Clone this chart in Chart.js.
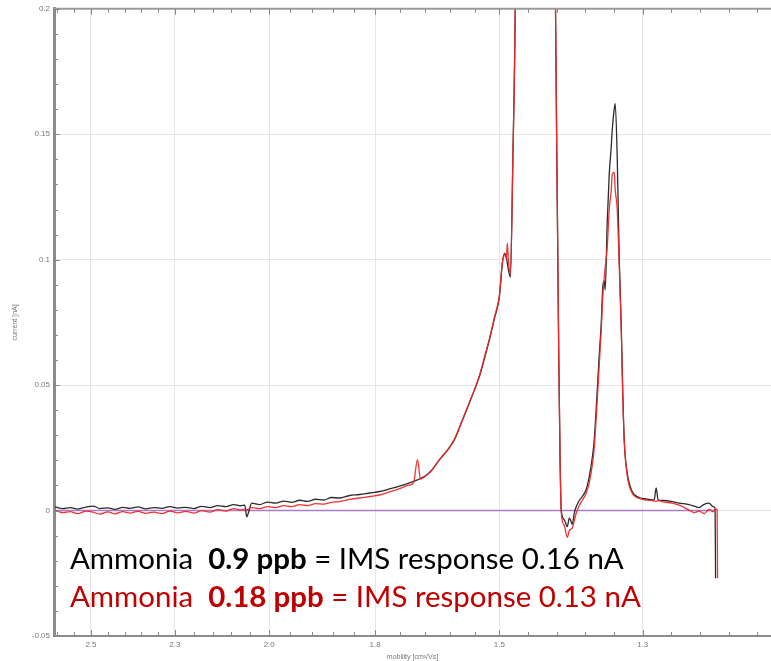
<!DOCTYPE html>
<html>
<head>
<meta charset="utf-8">
<script src="https://cdn.jsdelivr.net/npm/chart.js@4.4.1/dist/chart.umd.min.js"></script>
<style>
html,body{margin:0;padding:0;background:#fff;}
#wrap{width:771px;height:661px;position:relative;overflow:hidden;}
</style>
</head>
<body>
<div id="wrap"><canvas id="c" width="771" height="661"></canvas></div>
<script>
// drift-axis position (arbitrary linear units of the original plot's x axis)
const driftPos = [
  0, 0.8, 1.5, 2.3, 3.1, 3.8, 4.5, 5.3, 6.0, 6.8, 7.5, 8.3, 9.1, 9.9, 10.7, 11.5, 12.3, 13.1, 13.9, 14.7,
  15.5, 16.3, 17.1, 17.9, 18.6, 19.0, 19.2, 19.4, 19.7, 20.5, 21.3, 22.1, 22.9, 23.7, 24.5, 25.3, 26.1, 26.9, 27.7, 28.5,
  29.5, 30.5, 31.5, 32.5, 33.5, 34.5, 35.5, 35.9, 36.3, 36.6, 37.0, 37.7, 38.5, 39.3, 40.0, 40.7, 41.5, 42.0, 42.5, 43.0,
  43.5, 44.0, 44.5, 44.8, 45.0, 45.2, 45.3, 45.4, 45.6, 45.85, 46.1, 46.5, 48.1, 49.8, 50.1, 50.33, 50.45, 50.58, 50.7, 51.0,
  51.3, 51.5, 51.6, 51.8, 52.0, 52.2, 52.5, 52.8, 53.2, 53.5, 53.8, 54.0, 54.3, 54.5, 54.7, 54.85, 55.0, 55.1, 55.3, 55.5,
  55.7, 55.8, 56.0, 56.1, 56.3, 56.5, 56.7, 56.85, 57.0, 57.3, 57.8, 58.5, 59.3, 60.0, 60.2, 60.4, 61.0, 61.8, 62.5, 63.5,
  64.0, 64.5, 65.0, 65.5, 65.9, 66.1, 66.15, 66.3, 66.35
];
// Ammonia 0.9 ppb (black trace), current in nA
const current09 = [
  0.0015, 0.0008, 0.0012, 0.0006, 0.0014, 0.0018, 0.0008, 0.0011, 0.0005, 0.0013, 0.0009, 0.0015, 0.0007, 0.0012, 0.0009, 0.0016, 0.0010, 0.0013, 0.0008, 0.0017,
  0.0012, 0.0020, 0.0016, 0.0024, 0.0019, 0.0022, -0.0025, -0.0005, 0.0030, 0.0024, 0.0034, 0.0030, 0.0038, 0.0033, 0.0041, 0.0037, 0.0045, 0.0042, 0.0052, 0.0050,
  0.0060, 0.0064, 0.0070, 0.0076, 0.0086, 0.0097, 0.0110, 0.0116, 0.0122, 0.0128, 0.0136, 0.0160, 0.0203, 0.0240, 0.0282, 0.0350, 0.0430, 0.0480, 0.0534, 0.0605,
  0.0680, 0.0765, 0.0852, 0.0985, 0.1025, 0.1010, 0.0985, 0.0960, 0.0930, 0.1400, 0.2050, 0.45, 1.2, 0.45, 0.21, 0.11, 0.06, 0.02, 0.0000, -0.0036,
  -0.0064, -0.0030, -0.0036, -0.0055, -0.0010, 0.0016, 0.0040, 0.0056, 0.0085, 0.0135, 0.0210, 0.0282, 0.0480, 0.0620, 0.0747, 0.0890, 0.0915, 0.0880, 0.1150, 0.1340,
  0.1450, 0.1515, 0.1600, 0.1622, 0.1410, 0.1010, 0.0747, 0.0480, 0.0282, 0.0151, 0.0076, 0.0052, 0.0046, 0.0042, 0.0090, 0.0042, 0.0040, 0.0036, 0.0030, 0.0024,
  0.0018, 0.0012, 0.0025, 0.0030, 0.0016, 0.0010, -0.0270, null, null
];
// Ammonia 0.18 ppb (red trace), current in nA
const current018 = [
  0.0002, -0.0008, -0.0004, -0.0012, -0.0002, -0.0006, -0.0014, -0.0005, -0.0013, -0.0004, -0.0010, -0.0003, -0.0011, -0.0006, -0.0012, -0.0002, -0.0009, -0.0003, -0.0010, 0.0000,
  -0.0006, 0.0004, -0.0002, 0.0008, 0.0002, 0.0005, 0.0003, 0.0006, 0.0012, 0.0008, 0.0016, 0.0012, 0.0020, 0.0016, 0.0024, 0.0020, 0.0028, 0.0026, 0.0033, 0.0036,
  0.0045, 0.0050, 0.0056, 0.0062, 0.0074, 0.0087, 0.0102, 0.0110, 0.0203, 0.0125, 0.0134, 0.0158, 0.0203, 0.0242, 0.0285, 0.0352, 0.0432, 0.0482, 0.0538, 0.0610,
  0.0685, 0.0770, 0.0858, 0.0990, 0.1020, 0.1005, 0.1066, 0.1000, 0.0940, 0.1400, 0.2050, 0.45, 1.2, 0.45, 0.21, 0.11, 0.06, 0.02, -0.0010, -0.0060,
  -0.0107, -0.0080, -0.0075, -0.0070, -0.0040, -0.0010, 0.0020, 0.0040, 0.0070, 0.0110, 0.0180, 0.0250, 0.0440, 0.0580, 0.0720, 0.0850, 0.0930, 0.0970, 0.1050, 0.1200,
  0.1276, 0.1340, 0.1348, 0.1280, 0.1200, 0.0980, 0.0720, 0.0470, 0.0280, 0.0140, 0.0070, 0.0048, 0.0042, 0.0038, 0.0036, 0.0040, 0.0034, 0.0030, 0.0022, 0.0002,
  -0.0008, -0.0002, -0.0012, 0.0005, -0.0005, 0.0005, null, 0.0005, -0.0270
];
// zero baseline (purple)
const baselinePos = [0, 66.1];
const baselineVal = [0, 0];

const xTickPos = [3.6, 12.0, 21.45, 32.05, 44.5, 58.85];
const xTickLabels = ['2.5', '2.3', '2.0', '1.8', '1.5', '1.3'];
const yTickValues = [-0.05, 0, 0.05, 0.1, 0.15, 0.2];
const yTickLabels = ['-0.05', '0', '0.05', '0.1', '0.15', '0.2'];

const noteLine1 = [['Ammonia  ', false], ['0.9 ppb', true], [' = IMS response 0.16 nA', false]];
const noteLine2 = [['Ammonia  ', false], ['0.18 ppb', true], [' = IMS response 0.13 nA', false]];

const toPoints = (xs, ys) => xs.map((x, i) => ({x: x, y: ys[i]}));

const frameTicks = {
  id: 'frameTicks',
  afterDatasetsDraw(chart) {
    const ctx = chart.ctx, a = chart.chartArea;
    const xs = chart.scales.x, ys = chart.scales.y;
    ctx.save();
    ctx.strokeStyle = '#9a9a9a';
    ctx.lineWidth = 2;
    ctx.beginPath(); ctx.moveTo(a.left, a.top); ctx.lineTo(a.right, a.top); ctx.stroke();
    ctx.strokeStyle = '#888';
    ctx.lineWidth = 1;
    for (let k = 0; k <= 25; k++) {
      const v = -0.05 + k * 0.01;
      const py = Math.round(ys.getPixelForValue(v)) + 0.5;
      const len = (k % 5 === 0) ? 6 : 4;
      ctx.beginPath(); ctx.moveTo(a.left, py); ctx.lineTo(a.left + len, py); ctx.stroke();
    }
    const pos = [];
    for (let i = 0; i < xTickPos.length - 1; i++) {
      const s = (xTickPos[i + 1] - xTickPos[i]) / 5;
      for (let j = 0; j < 5; j++) pos.push([xTickPos[i] + j * s, j === 0]);
    }
    pos.push([xTickPos[xTickPos.length - 1], true]);
    const s0 = (xTickPos[1] - xTickPos[0]) / 5;
    for (let v = xTickPos[0] - s0; v > xs.min; v -= s0) pos.push([v, false]);
    const sN = (xTickPos[xTickPos.length - 1] - xTickPos[xTickPos.length - 2]) / 5;
    for (let v = xTickPos[xTickPos.length - 1] + sN; v < xs.max; v += sN) pos.push([v, false]);
    pos.forEach(([v, major]) => {
      const px = Math.round(xs.getPixelForValue(v)) + 0.5;
      const len = major ? 6 : 4;
      ctx.beginPath(); ctx.moveTo(px, a.bottom); ctx.lineTo(px, a.bottom - len); ctx.stroke();
      ctx.beginPath(); ctx.moveTo(px, a.top); ctx.lineTo(px, a.top + len); ctx.stroke();
    });
    ctx.restore();
  }
};

const notePlugin = {
  id: 'notePlugin',
  afterDraw(chart) {
    const ctx = chart.ctx;
    const family = 'Lato, "Open Sans", sans-serif';
    const measure = (line, size) => line.reduce((w, [t, b]) => {
      ctx.font = (b ? 'bold ' : '') + size + 'px ' + family;
      return w + ctx.measureText(t).width;
    }, 0);
    ctx.save();
    const size = 30 * 554 / measure(noteLine1, 30);
    const drawLine = (line, x, y, color) => {
      ctx.fillStyle = color;
      ctx.textBaseline = 'alphabetic';
      ctx.textAlign = 'left';
      line.forEach(([t, b]) => {
        ctx.font = (b ? 'bold ' : '') + size + 'px ' + family;
        ctx.fillText(t, x, y);
        x += ctx.measureText(t).width;
      });
    };
    drawLine(noteLine1, 70, 569, '#000000');
    drawLine(noteLine2, 70, 607, '#C00000');
    ctx.restore();
  }
};

new Chart(document.getElementById('c'), {
  type: 'line',
  data: {
    datasets: [
      {
        label: 'Ammonia 0.18 ppb',
        data: toPoints(driftPos, current018),
        borderColor: 'rgba(240,40,40,0.95)',
        borderWidth: 1.3,
        pointRadius: 0,
        spanGaps: true,
        cubicInterpolationMode: 'monotone',
        fill: false
      },
      {
        label: 'Ammonia 0.9 ppb',
        data: toPoints(driftPos, current09),
        borderColor: '#2b2b2b',
        borderWidth: 1.3,
        pointRadius: 0,
        spanGaps: true,
        cubicInterpolationMode: 'monotone',
        fill: false
      },
      {
        label: 'baseline',
        data: toPoints(baselinePos, baselineVal),
        borderColor: '#a77bc9',
        borderWidth: 1.5,
        pointRadius: 0,
        fill: false
      }
    ]
  },
  options: {
    responsive: false,
    animation: false,
    devicePixelRatio: 1,
    layout: {padding: {top: 8, left: 0, right: 0, bottom: 0}},
    plugins: {legend: {display: false}, tooltip: {enabled: false}},
    scales: {
      x: {
        type: 'linear',
        min: -0.1,
        max: 71.7,
        afterBuildTicks: s => { s.ticks = xTickPos.map(v => ({value: v})); },
        afterFit: s => { s.height = 25; },
        ticks: {
          autoSkip: false,
          maxRotation: 0,
          padding: 4,
          color: '#777',
          font: {family: '"Liberation Sans", Arial, sans-serif', size: 8},
          callback: (v, i) => xTickLabels[i]
        },
        grid: {color: '#e6e6e6', lineWidth: 1, drawTicks: false},
        border: {color: '#8c8c8c', width: 2},
        title: {
          display: true,
          text: 'mobility [cm²/Vs]',
          color: '#777',
          font: {family: '"Liberation Sans", Arial, sans-serif', size: 7},
          padding: {top: 0, bottom: 0}
        }
      },
      y: {
        type: 'linear',
        min: -0.05,
        max: 0.2,
        afterBuildTicks: s => { s.ticks = yTickValues.map(v => ({value: v})); },
        afterFit: s => { s.width = 54; },
        ticks: {
          padding: 4,
          color: '#777',
          font: {family: '"Liberation Sans", Arial, sans-serif', size: 8},
          callback: (v, i) => yTickLabels[i]
        },
        grid: {color: '#e6e6e6', lineWidth: 1, drawTicks: false},
        border: {color: '#8c8c8c', width: 3},
        title: {
          display: true,
          text: 'current [nA]',
          color: '#777',
          font: {family: '"Liberation Sans", Arial, sans-serif', size: 7},
          padding: {top: 11, bottom: 0}
        }
      }
    }
  },
  plugins: [frameTicks, notePlugin]
});
</script>
</body>
</html>
